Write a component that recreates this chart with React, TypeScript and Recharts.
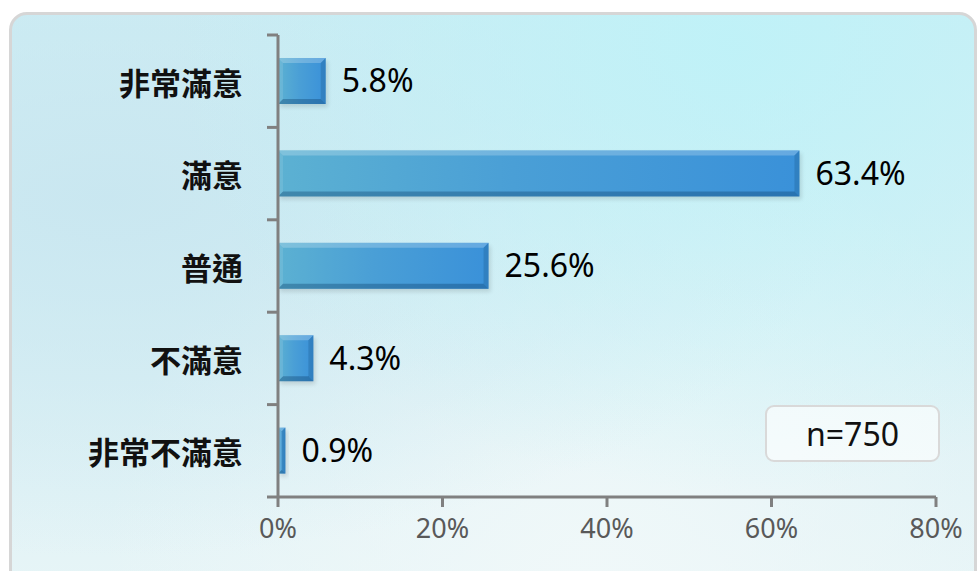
import React from 'react'
import { BarChart, Bar, XAxis, YAxis, LabelList } from 'recharts'

const categories = ['非常滿意', '滿意', '普通', '不滿意', '非常不滿意']
const percents = [5.8, 63.4, 25.6, 4.3, 0.9]
const xTicks = [0, 20, 40, 60, 80]
const sampleNote = 'n=750'

const data = categories.map((name, i) => ({ name, value: percents[i] }))

const W = 979
const H = 571
const Y_AXIS_W = 278
const MARGIN = { top: 35, right: 43, bottom: 30, left: 0 }
const X_AXIS_H = 44
const PLOT_H = H - MARGIN.top - MARGIN.bottom - X_AXIS_H
const BAND = PLOT_H / categories.length
const AXIS_GREY = '#808080'
const LATIN = '"Noto Sans", "Open Sans", sans-serif'
const CJK = '"Noto Sans CJK TC", "Noto Sans", sans-serif'

function BevelBar(props: any) {
  const { x, y, width, height } = props
  if (!width || width <= 0) return null
  const b = Math.min(5, width / 2, height / 2)
  const r = x + width
  const btm = y + height
  return (
    <g>
      <rect x={x + 2} y={y + 3} width={width} height={height} fill="#000" opacity={0.12} filter="url(#barShadow)" />
      <rect x={x} y={y} width={width} height={height} fill="url(#barFill)" />
      <polygon points={`${x},${y} ${r},${y} ${r - b},${y + b} ${x + b},${y + b}`} fill="#fff" opacity={0.22} />
      <polygon points={`${x},${btm} ${r},${btm} ${r - b},${btm - b} ${x + b},${btm - b}`} fill="#0b3d66" opacity={0.35} />
      <polygon points={`${r},${y} ${r},${btm} ${r - b},${btm - b} ${r - b},${y + b}`} fill="#0b3d66" opacity={0.2} />
      <polygon points={`${x},${y} ${x},${btm} ${x + b},${btm - b} ${x + b},${y + b}`} fill="#fff" opacity={0.1} />
    </g>
  )
}

function CategoryTick(props: any) {
  const { x, y, payload, index } = props
  const axisX = MARGIN.left + Y_AXIS_W
  const top = y - BAND / 2
  return (
    <g>
      <line x1={axisX - 11} x2={axisX} y1={top} y2={top} stroke={AXIS_GREY} strokeWidth={3} />
      {index === categories.length - 1 && (
        <line x1={axisX - 11} x2={axisX} y1={y + BAND / 2} y2={y + BAND / 2} stroke={AXIS_GREY} strokeWidth={3} />
      )}
      <text
        x={x}
        y={y}
        textAnchor="end"
        dominantBaseline="central"
        fontFamily={CJK}
        fontWeight={700}
        fontSize={31}
        fill="#111"
      >
        {payload.value}
      </text>
    </g>
  )
}

export default function App() {
  return (
    <div style={{ position: 'absolute', left: 0, top: 0, width: W, height: H, overflow: 'hidden', background: '#fff' }}>
      <div
        style={{
          position: 'absolute',
          left: 9,
          top: 12,
          width: W - 11,
          height: H + 40,
          borderRadius: 18,
          border: '3px solid #d6d6d6',
          boxSizing: 'border-box',
          background:
            'radial-gradient(ellipse at 75% 5%, rgba(190,242,248,0.9) 0%, rgba(190,242,248,0) 55%),' +
            'radial-gradient(ellipse at 10% 30%, rgba(200,230,240,0.9) 0%, rgba(200,230,240,0) 60%),' +
            'radial-gradient(ellipse at 60% 95%, rgba(240,248,249,1) 0%, rgba(240,248,249,0) 60%),' +
            'linear-gradient(180deg, #cdeef4 0%, #dcf1f5 60%, #e8f5f7 100%)',
        }}
      />
      <div style={{ position: 'absolute', left: 0, top: 0 }}>
        <BarChart width={W} height={H} data={data} layout="vertical" margin={MARGIN} barSize={46}>
          <defs>
            <linearGradient id="barFill" x1="0" y1="0" x2="1" y2="0">
              <stop offset="0%" stopColor="#5cb1d2" />
              <stop offset="45%" stopColor="#4a9fd6" />
              <stop offset="100%" stopColor="#3a91d9" />
            </linearGradient>
            <filter id="barShadow" x="-10%" y="-30%" width="130%" height="180%">
              <feGaussianBlur stdDeviation="2" />
            </filter>
          </defs>
          <XAxis
            type="number"
            domain={[0, 80]}
            ticks={xTicks}
            tickFormatter={(v: number) => `${v}%`}
            height={X_AXIS_H}
            tickSize={10}
            tickMargin={12}
            axisLine={{ stroke: AXIS_GREY, strokeWidth: 3 }}
            tickLine={{ stroke: AXIS_GREY, strokeWidth: 3 }}
            tick={{ fill: '#595959', fontSize: 27, fontFamily: LATIN }}
            interval={0}
          />
          <YAxis
            type="category"
            dataKey="name"
            width={Y_AXIS_W}
            tickSize={10}
            tickMargin={25}
            axisLine={{ stroke: AXIS_GREY, strokeWidth: 3 }}
            tickLine={false}
            tick={<CategoryTick />}
            interval={0}
          />
          <Bar dataKey="value" shape={<BevelBar />} isAnimationActive={false}>
            <LabelList
              dataKey="value"
              position="right"
              offset={16}
              formatter={(v: any) => `${v}%`}
              style={{ fill: '#000', fontSize: 32, fontFamily: LATIN }}
            />
          </Bar>
        </BarChart>
      </div>
      <div
        style={{
          position: 'absolute',
          left: 765,
          top: 405,
          width: 175,
          height: 57,
          boxSizing: 'border-box',
          border: '2px solid #d9d9d9',
          borderRadius: 9,
          background: 'rgba(255,255,255,0.6)',
          display: 'flex',
          alignItems: 'center',
          justifyContent: 'center',
          fontFamily: LATIN,
          fontSize: 32,
          color: '#111',
        }}
      >
        {sampleNote}
      </div>
    </div>
  )
}
